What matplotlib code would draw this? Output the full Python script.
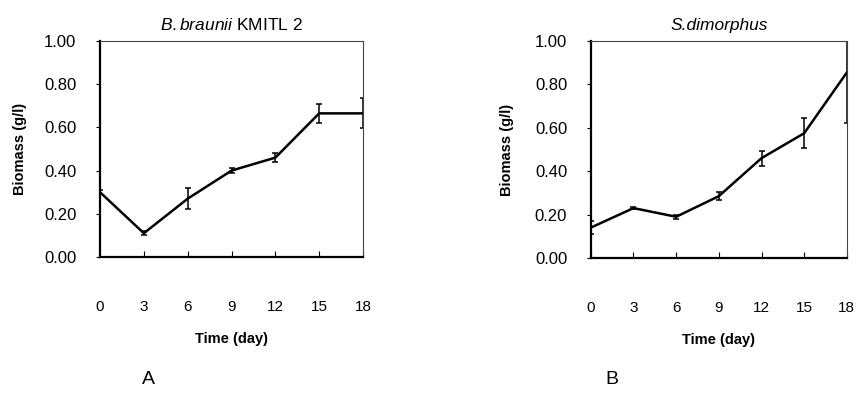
import matplotlib
matplotlib.use('Agg')
from matplotlib import pyplot as plt

plt.rcParams['font.family'] = ['Liberation Sans', 'DejaVu Sans']
plt.rcParams['mathtext.fontset'] = 'custom'
plt.rcParams['mathtext.it'] = 'Liberation Sans:italic'
plt.rcParams['mathtext.rm'] = 'Liberation Sans'

days = [0, 3, 6, 9, 12, 15, 18]
yticks = [0.0, 0.2, 0.4, 0.6, 0.8, 1.0]

# B.braunii KMITL 2
braunii = [0.30, 0.11, 0.27, 0.40, 0.46, 0.665, 0.665]
braunii_err = [0.01, 0.01, 0.05, 0.01, 0.02, 0.045, 0.07]

# S.dimorphus
dimorphus = [0.14, 0.23, 0.19, 0.285, 0.46, 0.575, 0.855]
dimorphus_err = [0.03, 0.005, 0.01, 0.02, 0.035, 0.07, 0.235]

fig = plt.figure(figsize=(8.6, 4), dpi=100)
axA = fig.add_axes([0.1163, 0.3575, 0.3058, 0.54])
axB = fig.add_axes([0.687, 0.355, 0.2977, 0.5425])

panels = [
    (axA, braunii, braunii_err, 'A', 148, 12),
    (axB, dimorphus, dimorphus_err, 'B', 612, 15),
]

for ax, vals, err, letter, lx, ypad in panels:
    ax.errorbar(days, vals, yerr=err, color='black', lw=1.8,
                elinewidth=1.1, capsize=2.5, capthick=1.1)
    ax.set_xlim(0, 18)
    ax.set_ylim(0, 1.0)
    ax.set_xticks(days)
    ax.set_xticklabels([str(d) for d in days])
    ax.set_yticks(yticks)
    ax.set_yticklabels(['%.2f' % v for v in yticks])
    ax.tick_params(axis='x', direction='in', length=4, pad=31, labelsize=11)
    ax.tick_params(axis='y', direction='out', length=3, pad=14, labelsize=12)
    for side in ['left', 'bottom']:
        ax.spines[side].set_linewidth(1.6)
    for side in ['top', 'right']:
        ax.spines[side].set_linewidth(0.8)
        ax.spines[side].set_color('#444444')
    ax.set_ylabel('Biomass (g/l)', fontsize=10.5, fontweight='bold', labelpad=ypad)
    ax.set_xlabel('Time (day)', fontsize=10.5, fontweight='bold', labelpad=13)
    fig.text(lx / 860, 0.05, letter, ha='center', va='center', fontsize=14)

axA.set_title(r'$\it{B.braunii}$ KMITL 2', fontsize=12.5, pad=8)
axB.set_title('S.dimorphus', fontsize=12.5, style='italic', pad=8)

fig.savefig('out.png', dpi=100)
